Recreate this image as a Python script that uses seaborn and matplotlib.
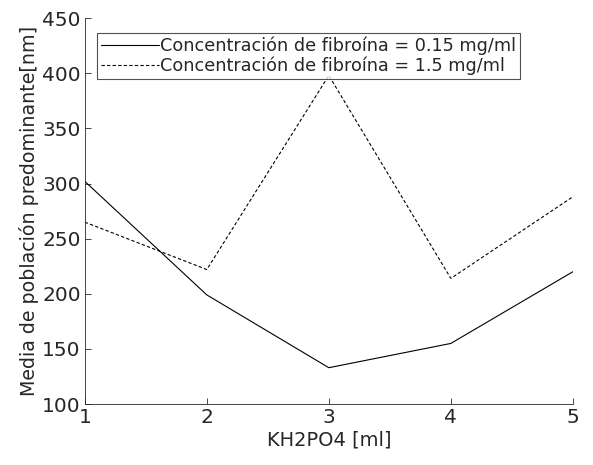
import pandas as pd
import matplotlib.pyplot as plt
import seaborn as sns

kh2po4 = [1, 2, 3, 4, 5]
conc_015 = [302, 199, 133, 155, 220]
conc_15 = [265, 222, 398, 214, 288]
labels = ['Concentración de fibroína = 0.15 mg/ml',
          'Concentración de fibroína = 1.5 mg/ml']

df = pd.DataFrame({
    'KH2PO4 [ml]': kh2po4 * 2,
    'media': conc_015 + conc_15,
    'serie': [labels[0]] * 5 + [labels[1]] * 5,
})

sns.set_style('ticks')
plt.rcParams['font.family'] = ['DejaVu Sans']

fig, ax = plt.subplots(figsize=(5.93, 4.65), dpi=100)
sns.lineplot(data=df, x='KH2PO4 [ml]', y='media', hue='serie', style='serie',
             palette=['black', 'black'], dashes=[(None, None), (3, 2)],
             linewidth=0.8, ax=ax)

ax.set_xlim(1, 5)
ax.set_ylim(100, 450)
ax.set_xticks(kh2po4)
ax.set_yticks(range(100, 451, 50))
ax.tick_params(direction='in', labelsize=14.5, length=4, width=0.6, colors='#262626', pad=3)
ax.set_xlabel('KH2PO4 [ml]', fontsize=14, color='#262626', labelpad=2)
ax.set_ylabel('Media de población predominante[nm]', fontsize=13.7, color='#262626', labelpad=2)
for s in ['top', 'right']:
    ax.spines[s].set_visible(False)
for s in ['left', 'bottom']:
    ax.spines[s].set_linewidth(0.6)
    ax.spines[s].set_color('#262626')

leg = ax.legend(loc='upper left', bbox_to_anchor=(0.025, 0.962), fontsize=12.7,
                frameon=True, fancybox=False, handlelength=3.3, handletextpad=0.1,
                borderpad=0.2, labelspacing=0.12, borderaxespad=0)
leg.get_frame().set_edgecolor('#262626')
leg.get_frame().set_linewidth(0.8)

plt.subplots_adjust(left=0.143, right=0.966, top=0.961, bottom=0.131)
plt.savefig('out.png')
